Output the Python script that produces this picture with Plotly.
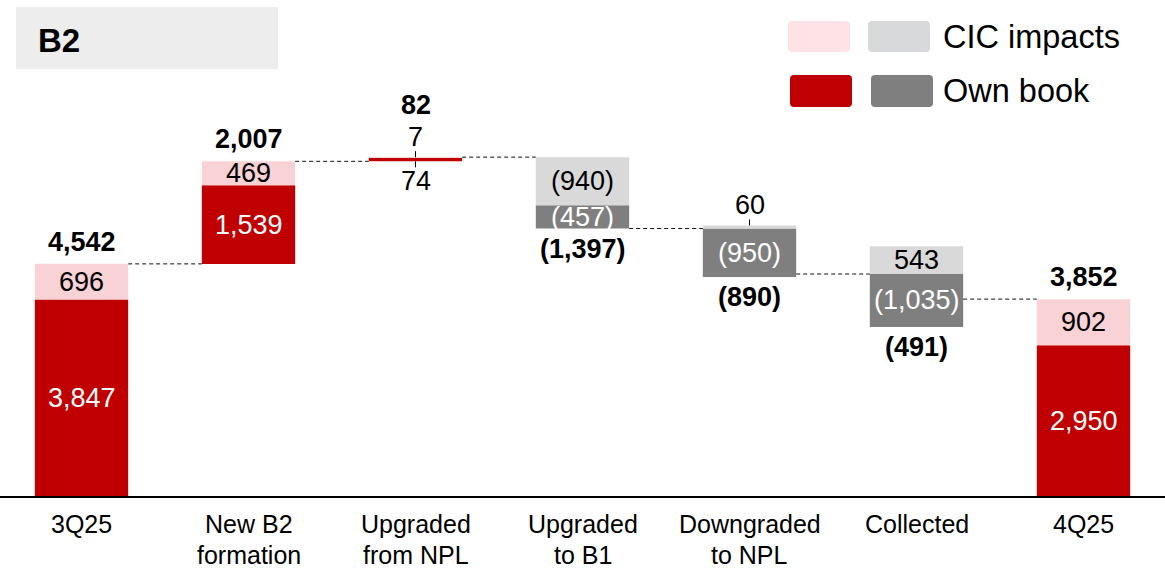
import plotly.graph_objects as go

# ---- data -------------------------------------------------------------
categories = ["3Q25", "New B2<br>formation", "Upgraded<br>from NPL", "Upgraded<br>to B1",
              "Downgraded<br>to NPL", "Collected", "4Q25"]
own_book = [3847, 1539, 74, -457, -950, -1035, 2950]
cic_impacts = [696, 469, 7, -940, 60, 543, 902]
net_change = [4542, 2007, 82, -1397, -890, -491, 3852]
is_total = [True, False, False, False, False, False, True]

# ---- styling ----------------------------------------------------------
RED, PINK = "#C00000", "#F9D2D5"
DGRAY, LGRAY = "#7F7F7F", "#D9D9D9"
LEG_PINK, LEG_LGRAY = "#FDE3E6", "#D8D9DB"
FONT = "Liberation Sans, Arial, Helvetica, sans-serif"
W, H = 1165, 570
PLOT_H = 496           # height of the plotting area in px
Y_MAX = 9706           # value at the top of the plotting area
BAR_W = 0.559
VAL_SIZE, CAT_SIZE = 27, 25


def fmt(v):
    s = f"{abs(v):,}"
    return f"({s})" if v < 0 else s


def px_to_paper_y(py):
    return 1 - py / PLOT_H


def px_to_paper_x(px):
    return px / W


# ---- waterfall layout of the stacked segments --------------------------
segs = {"own_up": ([], [], []), "cic_up": ([], [], []), "own_dn": ([], [], []), "cic_dn": ([], [], [])}
annotations, shapes = [], []
level = 0
col_top, col_bot, ends = [], [], []
seg_info = []  # (x, base, value, kind, increasing)
for i in range(len(categories)):
    start = 0 if is_total[i] else level
    up = dn = start
    increasing = net_change[i] > 0
    pieces = []
    # positives stack upward (own first, then CIC); negatives stack downward (CIC first, then own)
    for kind, v in (("own", own_book[i]), ("cic", cic_impacts[i])):
        if v > 0:
            pieces.append((kind, up, v))
            up += v
    for kind, v in (("cic", cic_impacts[i]), ("own", own_book[i])):
        if v < 0:
            pieces.append((kind, dn + v, v))
            dn += v
    for kind, base, v in pieces:
        key = kind + ("_up" if increasing else "_dn")
        segs[key][0].append(i)
        segs[key][1].append(abs(v))
        segs[key][2].append(base)
        seg_info.append((i, base, v, kind, increasing))
    col_top.append(up)
    col_bot.append(dn)
    end = net_change[i] if is_total[i] else level + net_change[i]
    ends.append(end)
    level = end

colors = {"own_up": RED, "cic_up": PINK, "own_dn": DGRAY, "cic_dn": LGRAY}
fig = go.Figure()
for key, (xs, ys, bases) in segs.items():
    fig.add_trace(go.Bar(x=xs, y=ys, base=bases, width=BAR_W, marker_color=colors[key],
                         marker_line_width=0, showlegend=False, hoverinfo="skip"))

# ---- segment labels ------------------------------------------------------
px_per_unit = PLOT_H / Y_MAX
small_top_shift = {}
for i, base, v, kind, increasing in seg_info:
    h_px = abs(v) * px_per_unit
    dark = kind == "own"
    if h_px >= 12:
        annotations.append(dict(x=i, y=base + abs(v) / 2, xref="x", yref="y", text=fmt(v),
                                showarrow=False, yanchor="middle",
                                font=dict(size=VAL_SIZE, color="white" if dark else "black", family=FONT)))
    else:
        if kind == "cic":
            y, shift, lead = col_top[i], 20, (0, 6)
            small_top_shift[i] = True
        else:
            y, shift, lead = col_bot[i], -20, (-6, 0)
        annotations.append(dict(x=i, y=y, xref="x", yref="y", text=fmt(v), showarrow=False,
                                yanchor="middle", yshift=shift,
                                font=dict(size=VAL_SIZE, color="black", family=FONT)))
        shapes.append(dict(type="line", xref="x", yref="y", x0=i, x1=i, ysizemode="pixel",
                           yanchor=y, y0=lead[0], y1=lead[1], line=dict(color="black", width=1)))

# ---- bold net / total labels --------------------------------------------
for i, v in enumerate(net_change):
    if v > 0:
        shift = 52 if i in small_top_shift else 22
        y = col_top[i]
    else:
        shift = -20
        y = col_bot[i]
    annotations.append(dict(x=i, y=y, xref="x", yref="y", text=f"<b>{fmt(v)}</b>", showarrow=False,
                            yanchor="middle", yshift=shift,
                            font=dict(size=VAL_SIZE, color="black", family=FONT)))

# ---- dashed connectors ---------------------------------------------------
for i in range(len(categories) - 1):
    shapes.append(dict(type="line", xref="x", yref="y", x0=i + BAR_W / 2, x1=i + 1 - BAR_W / 2,
                       y0=ends[i], y1=ends[i], line=dict(color="#111111", width=1, dash="4px,3px")))

# ---- category labels (one annotation per text line) ----------------------
for i, c in enumerate(categories):
    for j, line in enumerate(c.split("<br>")):
        annotations.append(dict(x=i, y=px_to_paper_y(524 + 31 * j), xref="x", yref="paper", text=line,
                                showarrow=False, yanchor="middle", borderpad=0,
                                font=dict(size=CAT_SIZE, color="black", family=FONT)))


# ---- title box -----------------------------------------------------------
def rect_px(x0, y0, x1, y1, color, r=0):
    X0, X1 = px_to_paper_x(x0), px_to_paper_x(x1)
    Y0, Y1 = px_to_paper_y(y0), px_to_paper_y(y1)
    if r == 0:
        return dict(type="rect", xref="paper", yref="paper", x0=X0, x1=X1, y0=Y0, y1=Y1,
                    fillcolor=color, line_width=0, layer="below")
    rx, ry = r / W, r / PLOT_H
    path = (f"M {X0 + rx},{Y0} L {X1 - rx},{Y0} Q {X1},{Y0} {X1},{Y0 - ry} "
            f"L {X1},{Y1 + ry} Q {X1},{Y1} {X1 - rx},{Y1} L {X0 + rx},{Y1} "
            f"Q {X0},{Y1} {X0},{Y1 + ry} L {X0},{Y0 - ry} Q {X0},{Y0} {X0 + rx},{Y0} Z")
    return dict(type="path", xref="paper", yref="paper", path=path, fillcolor=color, line_width=0)


shapes.append(rect_px(16, 7, 278, 69, "#EDEDED"))
annotations.append(dict(x=px_to_paper_x(36), y=px_to_paper_y(40), xref="paper", yref="paper",
                        text="<b>B2</b>", showarrow=False, xanchor="left", yanchor="middle",
                        font=dict(size=33, color="black", family=FONT)))

# ---- legend ----------------------------------------------------------------
shapes += [
    rect_px(788, 21, 850, 52, LEG_PINK, 4),
    rect_px(868, 21, 930, 52, LEG_LGRAY, 4),
    rect_px(790, 75, 852, 107, RED, 4),
    rect_px(871, 75, 933, 107, DGRAY, 4),
]
for text, py in (("CIC impacts", 37), ("Own book", 91)):
    annotations.append(dict(x=px_to_paper_x(941), y=px_to_paper_y(py), xref="paper", yref="paper",
                            text=text, showarrow=False, xanchor="left", yanchor="middle",
                            font=dict(size=32.5, color="black", family=FONT)))

fig.update_layout(
    width=W, height=H, margin=dict(l=0, r=0, t=0, b=H - PLOT_H),
    paper_bgcolor="white", plot_bgcolor="white", barmode="overlay",
    xaxis=dict(range=[-81.5 / 167, (W - 81.5) / 167], showgrid=False, zeroline=False,
               showticklabels=False, ticks="", showline=True, linecolor="black", linewidth=2),
    yaxis=dict(range=[0, Y_MAX], visible=False),
    shapes=shapes, annotations=annotations, font=dict(family=FONT),
)
fig.write_html("out.html")
